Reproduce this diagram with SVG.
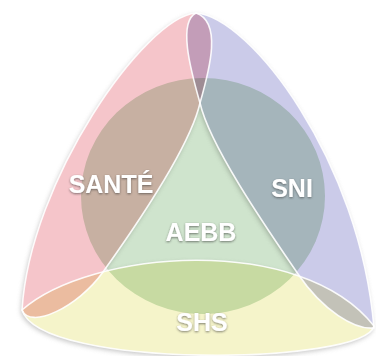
<svg xmlns="http://www.w3.org/2000/svg" xmlns:xlink="http://www.w3.org/1999/xlink" width="376" height="356" viewBox="0 0 376 356">
  <defs>
    <path id="leaf-sante" d="M196,13 C145,17 30,180 22,310 C30,330 78,307 103,272 C133,230 190,147 200,103 C210,68 222,22 196,13 Z"/>
    <path id="leaf-sni" d="M196,13 C250,17 360,160 374,328 C355,330 323,311 298,274 C270,233 210,147 200,103 C190,68 178,22 196,13 Z"/>
    <path id="leaf-shs" d="M22,310 C90,250 300,232 374,326 C365,365 40,370 22,310 Z"/>
    <filter id="shadow" x="-10%" y="-10%" width="120%" height="120%">
      <feGaussianBlur stdDeviation="2.5"/>
    </filter>
    <filter id="txt" x="-20%" y="-30%" width="140%" height="160%">
      <feDropShadow dx="0" dy="1" stdDeviation="1.2" flood-color="#333" flood-opacity="0.6"/>
    </filter>
  </defs>
  <style>
    .blend { mix-blend-mode: multiply; }
    .base { fill: #fff; }
    .edge { fill: none; stroke: #fff; stroke-width: 1.6; stroke-opacity: 0.9; }
    .label { font-family: "Liberation Sans", Arial, sans-serif; font-size: 25px; font-weight: bold; fill: #fff; text-anchor: middle; filter: url(#txt); }
  </style>
  <rect width="376" height="356" fill="#fff"/>
  <g id="shadow-layer" filter="url(#shadow)" fill="#9a9a9a" opacity="0.6" transform="translate(-1,2)">
    <use xlink:href="#leaf-sante"/>
    <use xlink:href="#leaf-sni"/>
    <use xlink:href="#leaf-shs"/>
  </g>
  <g id="base-layer">
    <use class="base" xlink:href="#leaf-sante"/>
    <use class="base" xlink:href="#leaf-sni"/>
    <use class="base" xlink:href="#leaf-shs"/>
  </g>
  <g id="aebb">
    <ellipse class="blend" cx="203" cy="196" rx="122" ry="118" fill="#cfe4cd"/>
    <text class="label" x="201" y="241">AEBB</text>
  </g>
  <g id="sante">
    <use class="blend" xlink:href="#leaf-sante" fill="#f5c5ca"/>
    <text class="label" x="111" y="193">SANTÉ</text>
  </g>
  <g id="sni">
    <use class="blend" xlink:href="#leaf-sni" fill="#cbcbe9"/>
    <text class="label" x="292" y="197">SNI</text>
  </g>
  <g id="shs">
    <use class="blend" xlink:href="#leaf-shs" fill="#f5f4ca"/>
    <text class="label" x="202" y="331">SHS</text>
  </g>
  <g id="connectors">
    <use class="edge" xlink:href="#leaf-sante"/>
    <use class="edge" xlink:href="#leaf-sni"/>
    <use class="edge" xlink:href="#leaf-shs"/>
  </g>
</svg>
